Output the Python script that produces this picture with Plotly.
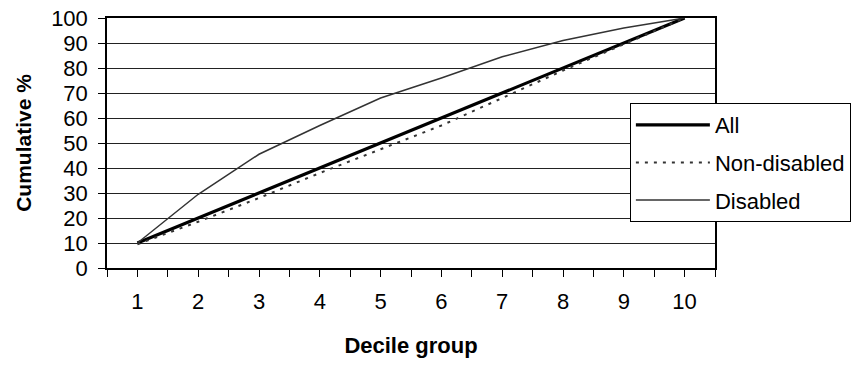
import plotly.graph_objects as go

deciles = [1, 2, 3, 4, 5, 6, 7, 8, 9, 10]
tick_labels = ["1", "2", "3", "4", "5", "6", "7", "8", "9", "10"]
all_vals = [10, 20, 30, 40, 50, 60, 70, 80, 90, 100]
non_disabled = [9.5, 18.5, 28, 38, 47.5, 57, 68, 79, 89.5, 100]
disabled = [10, 29.5, 45.5, 57, 68, 76, 84.5, 91, 96, 100]

FONT = "Arial, Liberation Sans, sans-serif"

fig = go.Figure()
fig.add_trace(go.Scatter(x=deciles, y=all_vals, mode="lines", name="All",
                         line=dict(color="black", width=3.2), legendgroup="a"))
fig.add_trace(go.Scatter(x=deciles, y=non_disabled, mode="lines", name="Non-disabled",
                         line=dict(color="#333333", width=2, dash="3px,6px"), legendgroup="b"))
fig.add_trace(go.Scatter(x=deciles, y=disabled, mode="lines", name="Disabled",
                         line=dict(color="#333333", width=1.5), legendgroup="c"))

fig.update_layout(
    width=863, height=365,
    margin=dict(l=107, r=148, t=18, b=97),
    paper_bgcolor="white", plot_bgcolor="white",
    font=dict(family=FONT, size=22, color="black"),
    showlegend=True,
    legend=dict(x=0.86, y=0.66, xanchor="left", yanchor="top",
                bgcolor="white", bordercolor="black", borderwidth=1,
                font=dict(size=22), itemwidth=74, traceorder="grouped",
                tracegroupgap=6),
    xaxis=dict(range=[0.5, 10.5], tickmode="array", tickvals=deciles, ticktext=tick_labels,
               ticks="outside", ticklen=7, tickcolor="black", tickwidth=1,
               ticklabelstandoff=6, automargin=False,
               minor=dict(ticks="outside", tickmode="linear", tick0=0.5, dtick=1,
                          ticklen=7, tickcolor="black", tickwidth=1, showgrid=False),
               showgrid=False, zeroline=False,
               showline=True, linecolor="black", linewidth=1.5, mirror=True,
               title=dict(text="<b>Decile group</b>", standoff=24, font=dict(size=22)),
               tickfont=dict(size=22)),
    yaxis=dict(range=[0, 100], tickmode="linear", tick0=0, dtick=10,
               ticks="outside", ticklen=7, tickcolor="black", tickwidth=1,
               ticklabelstandoff=6, automargin=False,
               showgrid=True, gridcolor="#222222", gridwidth=1, zeroline=False,
               showline=True, linecolor="black", linewidth=1.5, mirror=True,
               title=dict(text="<b>Cumulative %</b>", standoff=14, font=dict(size=21)),
               tickfont=dict(size=22)),
)

fig.write_html("out.html")
